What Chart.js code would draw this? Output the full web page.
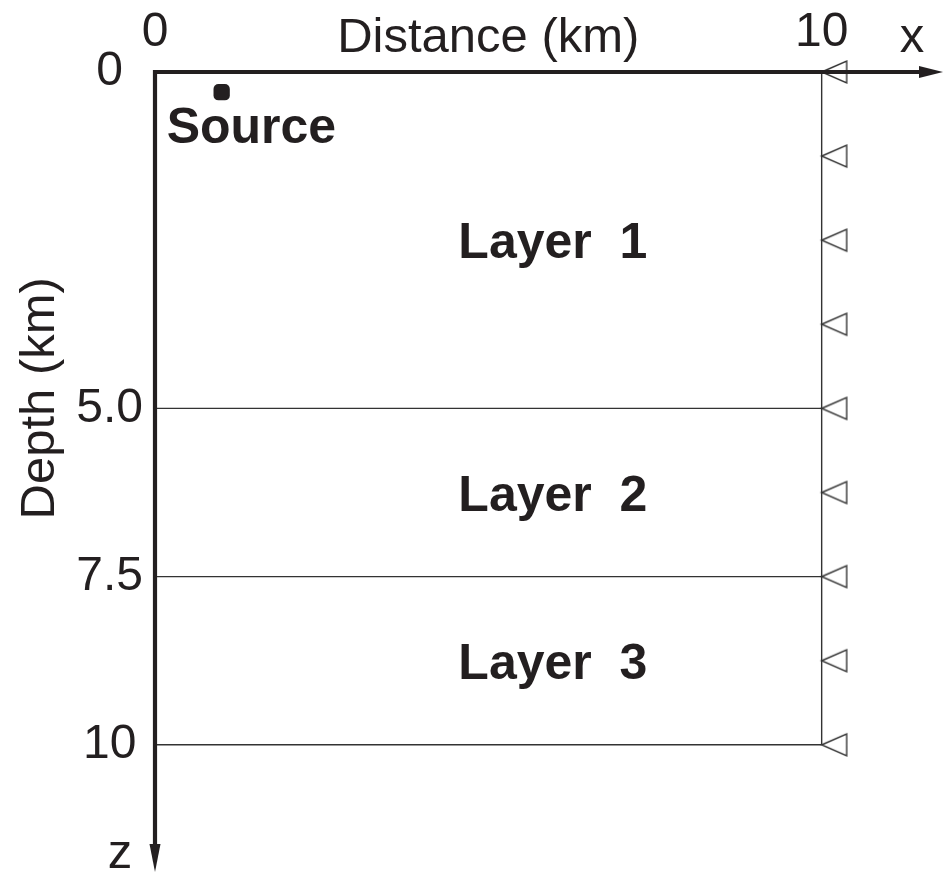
<!DOCTYPE html>
<html>
<head>
<meta charset="utf-8">
<script src="https://cdn.jsdelivr.net/npm/chart.js@4"></script>
<style>
  html, body { margin: 0; padding: 0; background: #ffffff; }
  #wrap { width: 945px; height: 874px; position: relative; }
</style>
</head>
<body>
<div id="wrap"><canvas id="c"></canvas></div>
<script>
// ---- data ----
const xTicks = [0, 10];
const xTickLabels = ['0', '10'];
const yTicks = [0, 5, 7.5, 10];
const yTickLabels = ['0', '5.0', '7.5', '10'];
const boundaryDepths = [5, 7.5, 10];
const modelWidth = 10;
const modelDepth = 10;
const receiverDepths = [0, 1.25, 2.5, 3.75, 5, 6.25, 7.5, 8.75, 10];
const receiverX = [10, 10, 10, 10, 10, 10, 10, 10, 10];
const sourceX = [1.0];
const sourceZ = [0.3];
const layerNames = ['Layer  1', 'Layer  2', 'Layer  3'];
const layerMidDepths = [2.5, 6.25, 8.75];
const layerLabelX = [4.55, 4.55, 4.55];
const xAxisMax = 11.85;
const yAxisMax = 11.92;

const INK = '#231f20';
const FONT = '"Liberation Sans", Arial, Helvetica, sans-serif';

// receiver symbol: hollow triangle pointing left, apex at point centre
function makeReceiverSymbol() {
  const W = 27, H = 26;
  const cv = document.createElement('canvas');
  cv.width = W * 2; cv.height = H;
  const g = cv.getContext('2d');
  g.strokeStyle = '#333333';
  g.lineWidth = 1.4;
  g.beginPath();
  g.moveTo(W, H / 2);
  g.lineTo(W + 25, 2);
  g.lineTo(W + 25, H - 2);
  g.closePath();
  g.stroke();
  return cv;
}

const datasets = [];
boundaryDepths.forEach(d => {
  datasets.push({
    type: 'line',
    data: [{x: 0, y: d}, {x: modelWidth, y: d}],
    borderColor: '#333333', borderWidth: 1.4, pointRadius: 0, clip: false
  });
});
datasets.push({
  type: 'line',
  data: [{x: modelWidth, y: 0}, {x: modelWidth, y: modelDepth}],
  borderColor: '#333333', borderWidth: 1.4, pointRadius: 0, clip: false
});
datasets.push({
  type: 'scatter',
  data: receiverDepths.map((d, i) => ({x: receiverX[i], y: d})),
  pointStyle: makeReceiverSymbol(), clip: false
});
datasets.push({
  type: 'scatter',
  data: sourceX.map((x, i) => ({x: x, y: sourceZ[i]})),
  pointStyle: 'rectRounded', pointRadius: 9.5,
  backgroundColor: INK, borderColor: INK, borderWidth: 0, clip: false
});

const decorPlugin = {
  id: 'decor',
  afterDatasetsDraw(chart) {
    const ctx = chart.ctx;
    const xs = chart.scales.x, ys = chart.scales.y;
    const x0 = xs.getPixelForValue(0), y0 = ys.getPixelForValue(0);
    const xTip = chart.width - 2, yTip = chart.height - 2;
    ctx.save();
    ctx.fillStyle = INK; ctx.strokeStyle = INK;
    ctx.lineWidth = 4.2;
    ctx.beginPath();
    ctx.moveTo(x0 - 2, y0); ctx.lineTo(xTip - 18, y0);
    ctx.moveTo(x0, y0 - 2); ctx.lineTo(x0, yTip - 20);
    ctx.stroke();
    ctx.beginPath();
    ctx.moveTo(xTip, y0); ctx.lineTo(xTip - 24, y0 - 6); ctx.lineTo(xTip - 24, y0 + 6); ctx.closePath();
    ctx.fill();
    ctx.beginPath();
    ctx.moveTo(x0, yTip); ctx.lineTo(x0 - 5.5, yTip - 28); ctx.lineTo(x0 + 5.5, yTip - 28); ctx.closePath();
    ctx.fill();

    // axis titles and axis letters
    ctx.font = '49px ' + FONT;
    ctx.textAlign = 'center'; ctx.textBaseline = 'alphabetic';
    ctx.fillText('Distance (km)', xs.getPixelForValue(5), 52);
    ctx.fillText('x', 912, 52);
    ctx.fillText('z', 120, 868);
    ctx.save();
    ctx.translate(54, ys.getPixelForValue(4.85));
    ctx.rotate(-Math.PI / 2);
    ctx.fillText('Depth (km)', 0, 0);
    ctx.restore();

    // annotations
    ctx.font = 'bold 50px ' + FONT;
    ctx.textAlign = 'left';
    const sx = xs.getPixelForValue(sourceX[0]), sy = ys.getPixelForValue(sourceZ[0]);
    ctx.fillText('Source', sx - 55, sy + 51);
    layerNames.forEach((n, i) => {
      ctx.fillText(n, xs.getPixelForValue(layerLabelX[i]), ys.getPixelForValue(layerMidDepths[i]) + 18);
    });
    ctx.restore();
  }
};

new Chart(document.getElementById('c'), {
  data: { datasets },
  options: {
    responsive: true,
    maintainAspectRatio: false,
    animation: false,
    events: [],
    layout: { padding: 0, autoPadding: false },
    plugins: { legend: { display: false }, tooltip: { enabled: false }, title: { display: false } },
    scales: {
      x: {
        type: 'linear', position: 'top', min: 0, max: xAxisMax,
        grid: { display: false, drawTicks: false },
        border: { display: false },
        afterBuildTicks: s => { s.ticks = xTicks.map(v => ({value: v})); },
        afterFit: s => { s.height = 72; s.paddingLeft = 0; s.paddingRight = 0; },
        ticks: {
          padding: 10, color: INK, maxRotation: 0,
          font: { family: FONT, size: 48 },
          callback: (v, i) => xTickLabels[i]
        }
      },
      y: {
        type: 'linear', position: 'left', reverse: true, min: 0, max: yAxisMax,
        grid: { display: false, drawTicks: false },
        border: { display: false },
        afterBuildTicks: s => { s.ticks = yTicks.map(v => ({value: v})); },
        afterFit: s => { s.width = 155; s.paddingTop = 0; s.paddingBottom = 0; },
        ticks: {
          padding: 12, color: INK, crossAlign: 'center',
          font: { family: FONT, size: 48 },
          callback: (v, i) => yTickLabels[i]
        }
      }
    }
  },
  plugins: [decorPlugin]
});
</script>
</body>
</html>
